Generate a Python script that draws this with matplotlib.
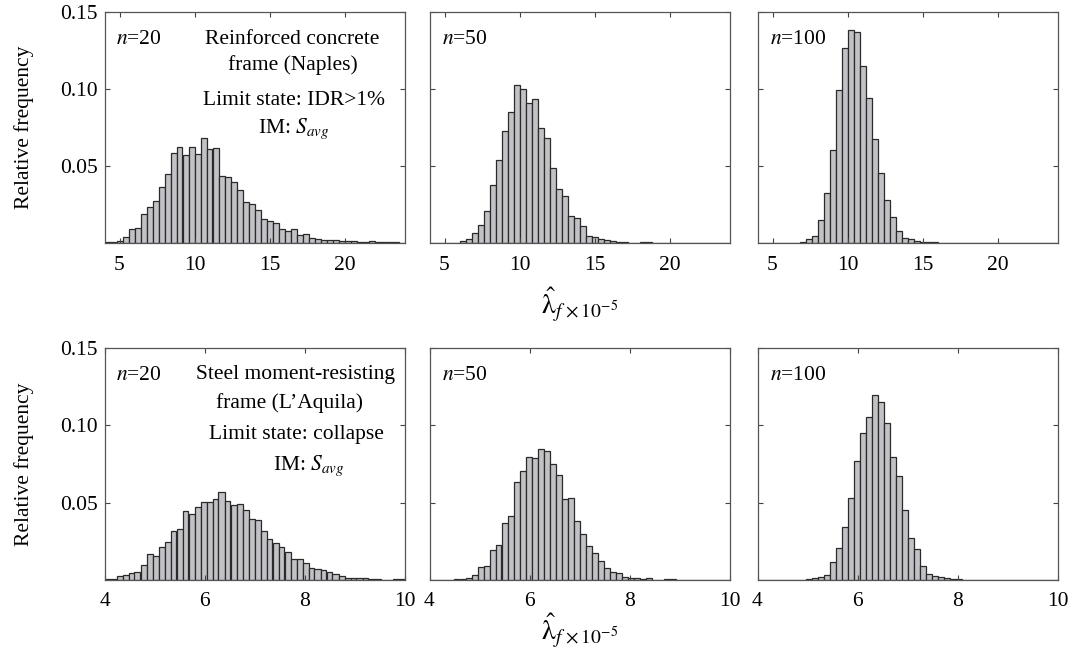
import numpy as np
import matplotlib.pyplot as plt
from matplotlib.ticker import FormatStrFormatter

plt.rcParams['font.family'] = 'Liberation Serif'
plt.rcParams['mathtext.fontset'] = 'stix'
plt.rcParams['font.size'] = 15.5

# histogram bin edges
rc_edges = np.linspace(4, 24, 51)
steel_edges = np.linspace(4, 10, 51)

# relative frequency per bin, reinforced concrete frame (Naples)
rc_n20 = [0.0005, 0.0009, 0.0015, 0.0037, 0.0089, 0.0100, 0.0190, 0.0236, 0.0273, 0.0366,
          0.0448, 0.0587, 0.0624, 0.0572, 0.0626, 0.0578, 0.0680, 0.0610, 0.0615, 0.0435,
          0.0430, 0.0396, 0.0344, 0.0264, 0.0253, 0.0214, 0.0156, 0.0143, 0.0132, 0.0091,
          0.0078, 0.0093, 0.0052, 0.0056, 0.0032, 0.0024, 0.0022, 0.0020, 0.0017, 0.0015,
          0.0013, 0.0011, 0.0009, 0.0007, 0.0012, 0.0006, 0.0005, 0.0004, 0.0004, 0.0003]
rc_n50 = [0, 0, 0, 0, 0.0003, 0.0010, 0.0028, 0.0063, 0.0120, 0.0210,
          0.0377, 0.0537, 0.0727, 0.0850, 0.1024, 0.0998, 0.0911, 0.0933, 0.0747, 0.0684,
          0.0489, 0.0349, 0.0305, 0.0175, 0.0165, 0.0108, 0.0045, 0.0037, 0.0024, 0.0020,
          0.0011, 0.0006, 0.0004, 0.0003, 0.0002, 0.0004, 0.0004, 0.0002, 0.0001, 0.0001,
          0.0001, 0, 0, 0, 0, 0, 0, 0, 0, 0]
rc_n100 = [0, 0, 0, 0, 0, 0, 0, 0.0005, 0.0026, 0.0045,
           0.0147, 0.0327, 0.0604, 0.0994, 0.1269, 0.1386, 0.1368, 0.1150, 0.0940, 0.0673,
           0.0452, 0.0277, 0.0167, 0.0076, 0.0035, 0.0024, 0.0015, 0.0006, 0.0004, 0.0006,
           0, 0, 0, 0, 0, 0, 0, 0, 0, 0,
           0, 0, 0, 0, 0, 0, 0, 0, 0, 0]

# relative frequency per bin, steel moment-resisting frame (L'Aquila)
steel_n20 = [0.0004, 0.0009, 0.0026, 0.0034, 0.0043, 0.0054, 0.0097, 0.0166, 0.0157, 0.0211,
             0.0246, 0.0319, 0.0328, 0.0446, 0.0425, 0.0474, 0.0502, 0.0506, 0.0526, 0.0567,
             0.0513, 0.0483, 0.0493, 0.0455, 0.0392, 0.0390, 0.0319, 0.0265, 0.0239, 0.0213,
             0.0179, 0.0134, 0.0138, 0.0108, 0.0080, 0.0071, 0.0067, 0.0050, 0.0039, 0.0024,
             0.0015, 0.0015, 0.0013, 0.0011, 0.0009, 0.0004, 0.0002, 0.0002, 0.0006, 0.0004]
steel_n50 = [0, 0, 0, 0, 0.0004, 0.0006, 0.0011, 0.0032, 0.0082, 0.0090,
             0.0194, 0.0224, 0.0370, 0.0416, 0.0636, 0.0703, 0.0793, 0.0789, 0.0850, 0.0834,
             0.0750, 0.0677, 0.0526, 0.0528, 0.0384, 0.0297, 0.0220, 0.0172, 0.0125, 0.0075,
             0.0050, 0.0045, 0.0022, 0.0013, 0.0011, 0.0004, 0.0015, 0.0002, 0.0002, 0.0004,
             0.0004, 0, 0, 0, 0, 0, 0, 0, 0, 0]
steel_n100 = [0, 0, 0, 0, 0, 0, 0, 0, 0.0006, 0.0015,
              0.0017, 0.0032, 0.0118, 0.0207, 0.0340, 0.0530, 0.0772, 0.0950, 0.1052, 0.1198,
              0.1153, 0.1015, 0.0797, 0.0670, 0.0450, 0.0269, 0.0198, 0.0090, 0.0039, 0.0026,
              0.0022, 0.0011, 0.0009, 0.0006, 0.0002, 0, 0, 0, 0, 0,
              0, 0, 0, 0, 0, 0, 0, 0, 0, 0]

sample_sizes = ['20', '50', '100']
rc_ticks = [5, 10, 15, 20]
steel_ticks = [4, 6, 8, 10]
freq_ticks = [0.05, 0.10, 0.15]

W, H = 1070, 653
fig = plt.figure(figsize=(W / 100, H / 100), dpi=100)

col_left = [104.5, 429.5, 757.5]
col_width = 300
rows = [(12, 243), (348, 580)]


def panel(px_left, row, edges, freqs, xticks, first):
    top, bottom = row
    ax = fig.add_axes([px_left / W, 1 - bottom / H, col_width / W, (bottom - top) / H])
    ax.bar(edges[:-1], freqs, width=np.diff(edges), align='edge',
           color='#c2c2c6', edgecolor='#2a2a2a', linewidth=0.9)
    ax.set_xlim(edges[0], edges[-1])
    ax.set_ylim(0, 0.15)
    ax.set_xticks(xticks)
    ax.set_yticks(freq_ticks)
    ax.yaxis.set_major_formatter(FormatStrFormatter('%.2f'))
    ax.tick_params(direction='in', top=True, right=True, length=3.5, width=0.8,
                   color='#444444')
    ax.tick_params(axis='x', pad=9)
    ax.tick_params(axis='y', pad=5)
    for s in ax.spines.values():
        s.set_color('#555555')
        s.set_linewidth(0.9)
    if first:
        ax.set_ylabel('Relative frequency')
        ax.yaxis.set_label_coords(-0.235, 0.5)
    else:
        ax.set_yticklabels([])
    return ax


rc_data = [rc_n20, rc_n50, rc_n100]
steel_data = [steel_n20, steel_n50, steel_n100]
axes_top, axes_bot = [], []
for i in range(3):
    a = panel(col_left[i], rows[0], rc_edges, rc_data[i], rc_ticks, i == 0)
    a.text(0.04, 0.88, '$n$=' + sample_sizes[i], transform=a.transAxes,
           ha='left', va='center')
    axes_top.append(a)
    b = panel(col_left[i], rows[1], steel_edges, steel_data[i], steel_ticks, i == 0)
    b.text(0.04, 0.88, '$n$=' + sample_sizes[i], transform=b.transAxes,
           ha='left', va='center')
    axes_bot.append(b)

xlab = r'$\hat{\mathrm{\lambda}}_{f\,\times 10^{-5}}$'
axes_top[1].set_xlabel(xlab, fontsize=20, labelpad=8)
axes_bot[1].set_xlabel(xlab, fontsize=20, labelpad=0)

# case descriptions
a = axes_top[0]
a.text(0.627, 0.88, 'Reinforced concrete', transform=a.transAxes, ha='center', va='center')
a.text(0.627, 0.772, 'frame (Naples)', transform=a.transAxes, ha='center', va='center')
a.text(0.633, 0.619, 'Limit state: IDR>1%', transform=a.transAxes, ha='center', va='center')
a.text(0.63, 0.476, 'IM: $S_{avg}$', transform=a.transAxes, ha='center', va='baseline')

b = axes_bot[0]
b.text(0.635, 0.884, 'Steel moment-resisting', transform=b.transAxes, ha='center', va='center')
b.text(0.618, 0.763, 'frame (L\u2019Aquila)', transform=b.transAxes, ha='center', va='center')
b.text(0.641, 0.625, 'Limit state: collapse', transform=b.transAxes, ha='center', va='center')
b.text(0.68, 0.475, 'IM: $S_{avg}$', transform=b.transAxes, ha='center', va='baseline')

fig.savefig('out.png', dpi=100)
